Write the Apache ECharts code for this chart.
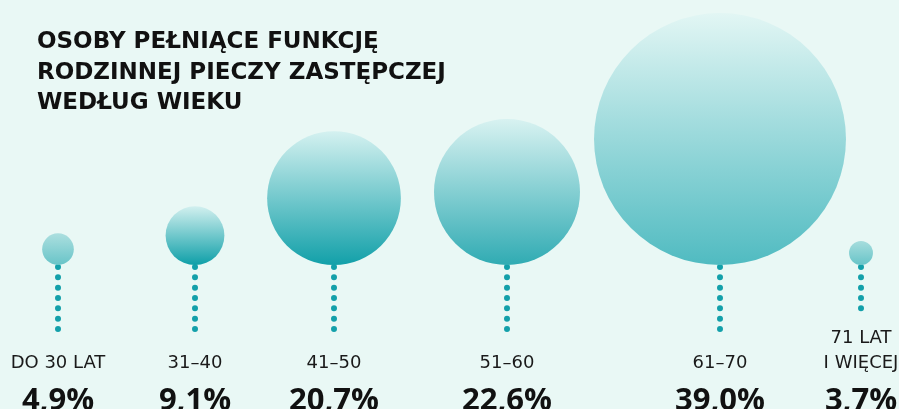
<!DOCTYPE html>
<html>
<head>
<meta charset="utf-8">
<script src="https://cdn.jsdelivr.net/npm/echarts@6/dist/echarts.min.js"></script>
<style>
  html, body { margin: 0; padding: 0; background: #e9f8f5; }
  #chart { width: 899px; height: 409px; }
</style>
</head>
<body>
<div id="chart"></div>
<script>
// dane
var categories = ['DO 30 LAT', '31–40', '41–50', '51–60', '61–70', '71 LAT\nI WIĘCEJ']
var shares = [4.9, 9.1, 20.7, 22.6, 39.0, 3.7]
var titleLines = ['OSOBY PEŁNIĄCE FUNKCJĘ', 'RODZINNEJ PIECZY ZASTĘPCZEJ', 'WEDŁUG WIEKU']

// układ (środki kolumn, długość kropkowanej nóżki, odstęp podpisu)
var columnCenter = [58, 195, 334, 507, 720, 861]
var stemLength = [65, 65, 65, 65, 65, 44]
var labelMargin = [18.5, 18.5, 18.5, 18.5, 18.5, 14.5]
var stemTop = 267
var pxPerPercent = 6.46
// kolory gradientu kul: [góra, dół]
var bubbleColors = [
  ['#acdfdf', '#68c4c8'],
  ['#d2f0ef', '#0e9fa8'],
  ['#d4f1f0', '#12a0a9'],
  ['#d8f2f1', '#30abb3'],
  ['#e2f6f4', '#50bbc1'],
  ['#a6dddd', '#68c4c8']
]

var chart = echarts.init(document.getElementById('chart'))

var grid = []
var xAxis = []
var yAxis = []
var series = []

categories.forEach(function (cat, i) {
  grid.push({
    left: columnCenter[i] - 40,
    width: 80,
    top: stemTop,
    height: stemLength[i],
    containLabel: false,
    outerBoundsMode: 'none'
  })
  xAxis.push({
    type: 'category',
    gridIndex: i,
    data: [cat],
    axisLine: { show: false },
    axisTick: { show: false },
    splitLine: { show: false },
    axisLabel: {
      margin: labelMargin[i],
      interval: 0,
      hideOverlap: false,
      formatter: function (value) {
        var lines = value.split('\n').map(function (s) { return '{c|' + s + '}' })
        lines.push('{p|' + shares[i].toFixed(1).replace('.', ',') + '%}')
        return lines.join('\n')
      },
      rich: {
        c: {
          fontFamily: 'DejaVu Sans',
          fontSize: 18,
          color: '#1a1a1a',
          lineHeight: 25
        },
        p: {
          fontFamily: 'Open Sans',
          fontWeight: 'bold',
          fontSize: 31,
          color: '#111111',
          lineHeight: 51
        }
      }
    }
  })
  yAxis.push({
    type: 'value',
    gridIndex: i,
    min: 0,
    max: 1,
    inverse: true,
    show: false
  })
  // kropkowana nóżka
  series.push({
    type: 'line',
    xAxisIndex: i,
    yAxisIndex: i,
    data: [[cat, 0], [cat, 1]],
    symbol: 'none',
    silent: true,
    clip: false,
    lineStyle: {
      color: '#13a0aa',
      width: 6,
      type: [0.01, 10.32],
      cap: 'round'
    },
    z: 1
  })
  // kula (dół kuli tuż nad pierwszą kropką)
  var size = shares[i] * pxPerPercent
  series.push({
    type: 'scatter',
    xAxisIndex: i,
    yAxisIndex: i,
    clip: false,
    data: [[cat, 0, shares[i]]],
    symbol: 'circle',
    symbolSize: function (val) { return val[2] * pxPerPercent },
    symbolOffset: [0, -(size / 2 + 2)],
    itemStyle: {
      opacity: 1,
      color: new echarts.graphic.LinearGradient(0, 0, 0, 1, [
        { offset: 0, color: bubbleColors[i][0] },
        { offset: 1, color: bubbleColors[i][1] }
      ])
    },
    z: 2
  })
})

chart.setOption({
  backgroundColor: '#e9f8f5',
  animation: false,
  title: {
    text: titleLines.join('\n'),
    left: 32,
    top: 22,
    textStyle: {
      fontFamily: 'DejaVu Sans',
      fontWeight: 'bold',
      fontSize: 23,
      lineHeight: 30.5,
      color: '#111111'
    }
  },
  grid: grid,
  xAxis: xAxis,
  yAxis: yAxis,
  series: series
})
</script>
</body>
</html>
